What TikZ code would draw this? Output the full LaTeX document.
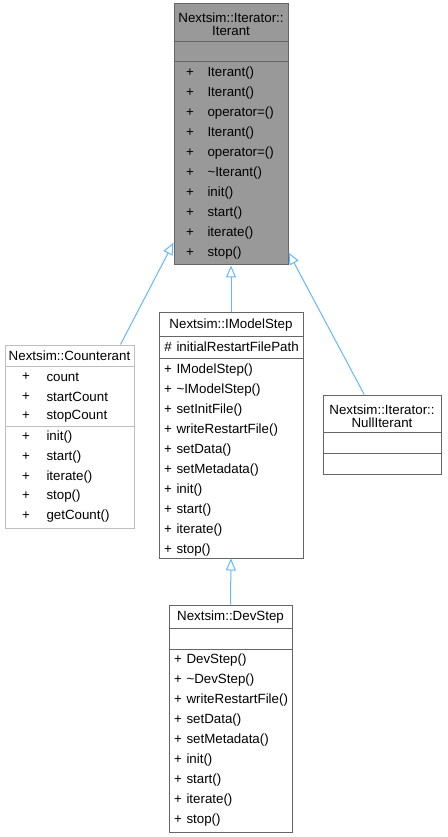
\documentclass[tikz,border=0pt]{standalone}
\usepackage{fontspec}
\setmainfont{Liberation Sans}
\usetikzlibrary{arrows.meta,fit}

\definecolor{edgeblue}{RGB}{99,184,255}
\definecolor{boxgrey}{RGB}{153,153,153}
\definecolor{linegrey}{RGB}{102,102,102}
\definecolor{lightline}{RGB}{191,191,191}

\tikzset{
  classbox/.style={draw=linegrey, inner sep=0pt},
  title/.style={align=center, inner sep=0pt, font=\fontsize{10}{9.75}\selectfont},
  member/.style={anchor=west, inner sep=0pt, font=\fontsize{10}{12}\selectfont},
  sign/.style={inner sep=0pt, font=\fontsize{10}{12}\selectfont},
  edge/.style={draw=edgeblue, -{Triangle[open, length=9pt, width=7.5pt]}}
}

\begin{document}
\begin{tikzpicture}[x=0.75pt, y=-0.75pt, line width=0.75pt]
	\useasboundingbox[fill=white] (0,0) rectangle (447,837);

	\node[classbox, fit={(174,4) (288,265)}, fill=boxgrey] (iterant) {};
	\draw[linegrey] (174,42) -- (288,42) (174,62) -- (288,62);
	\draw (231,24) node[title] (itTitle) {Nextsim::Iterator::\\Iterant};
	\foreach \name [count=\i from 0] in {Iterant(),Iterant(),operator=(),Iterant(),operator=(),\textasciitilde Iterant(),init(),start(),iterate(),stop()}
		\draw (190,73+20*\i) node[sign] (itSign\i) {+} (207,73+20*\i) node[member] (itName\i) {\name};

	\node[classbox, fit={(5,345) (134,528)}, draw=lightline] (counterant) {};
	\draw[lightline] (5,366) -- (134,366) (5,426) -- (134,426);
	\draw (69.5,356) node[title] (coTitle) {Nextsim::Counterant};
	\foreach \y/\name [count=\i] in {377/count,397/startCount,416/stopCount,437/init(),457/start(),477/iterate(),496/stop(),516/getCount()}
		\draw (26,\y) node[sign] (coSign\i) {+} (46,\y) node[member] (coName\i) {\name};

	\node[classbox, fit={(159,313) (303,558)}] (imodel) {};
	\draw[linegrey] (159,336) -- (303,336) (159,358) -- (303,358);
	\draw (231,325) node[title] (imTitle) {Nextsim::IModelStep};
	\draw (168,347) node[sign] (imSign) {\#} (176,347) node[member] (imAttr) {initialRestartFilePath};
	\foreach \name [count=\i from 0] in {IModelStep(),\textasciitilde IModelStep(),setInitFile(),writeRestartFile(),setData(),setMetadata(),init(),start(),iterate(),stop()}
		\draw (168,370+20*\i) node[sign] (imSign\i) {+} (176,370+20*\i) node[member] (imName\i) {\name};

	\node[classbox, fit={(323,395) (441,474)}] (nulliter) {};
	\draw[linegrey] (323,432) -- (441,432) (323,453) -- (441,453);
	\draw (382,416) node[title] (nuTitle) {Nextsim::Iterator::\\NullIterant};

	\node[classbox, fit={(169,605) (292,832)}] (devstep) {};
	\draw[linegrey] (169,628) -- (292,628) (169,649) -- (292,649);
	\draw (230.5,617) node[title] (dsTitle) {Nextsim::DevStep};
	\foreach \name [count=\i from 0] in {DevStep(),\textasciitilde DevStep(),writeRestartFile(),setData(),setMetadata(),init(),start(),iterate(),stop()}
		\draw (178,660+20*\i) node[sign] (dsSign\i) {+} (186,660+20*\i) node[member] (dsName\i) {\name};

	\draw[edge] (counterant.61) -- (iterant.242);
	\draw[edge] (imodel.north) -- (iterant.south);
	\draw[edge] (nulliter.114) -- (iterant.296);
	\draw[edge] (devstep.north) -- (imodel.south);
\end{tikzpicture}
\end{document}
